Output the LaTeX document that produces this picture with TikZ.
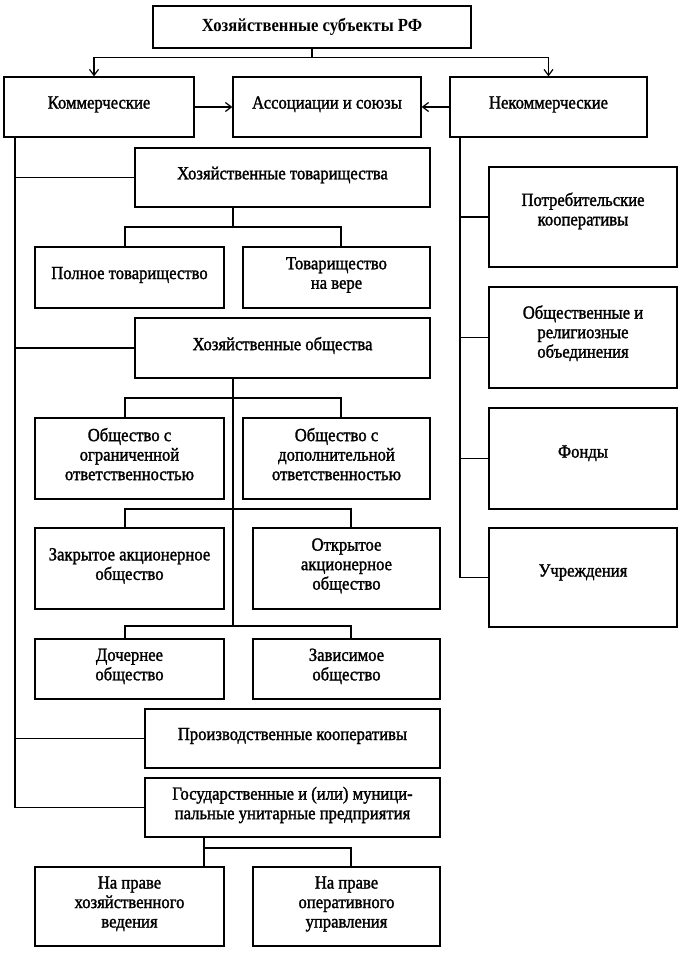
\documentclass[tikz,border=0pt]{standalone}
\usepackage{fontspec}
\setmainfont[FakeStretch=0.9]{Liberation Serif}
\newfontfamily\boxfont[FakeStretch=0.9,FakeBold=1.5]{Liberation Serif}
\usetikzlibrary{arrows.meta}
\begin{document}
\begin{tikzpicture}[x=1pt,y=-1pt,line width=1.2pt,
    box/.style={draw,rectangle,align=center,inner sep=0pt,text depth=9pt,
      font=\boxfont\fontsize{18.5}{19.5}\selectfont},
    arr/.style={-{Straight Barb[length=6pt,width=9pt]}}]
      \useasboundingbox (0,0) rectangle (684,953);
      \draw
        (312,27) node[box,minimum width=318,minimum height=42,text depth=5pt,
          font=\normalfont\bfseries\fontsize{18.5}{19.5}\selectfont] (title){Хозяйственные субъекты РФ}
        (99,107) node[box,minimum width=190,minimum height=60] (komm){Коммерческие}
        (327,107) node[box,minimum width=188,minimum height=60] (assoc){Ассоциации и союзы}
        (548.5,107) node[box,minimum width=197,minimum height=60] (nekomm){Некоммерческие}
        (282.5,177.5) node[box,minimum width=295,minimum height=59] (htov){Хозяйственные товарищества}
        (129.5,277.5) node[box,minimum width=189,minimum height=61] (poln){Полное товарищество}
        (336.5,277.5) node[box,minimum width=187,minimum height=61] (vera){Товарищество\\на вере}
        (282.5,348) node[box,minimum width=295,minimum height=60] (hob){Хозяйственные общества}
        (129.5,458.5) node[box,minimum width=189,minimum height=81] (ooo){Общество с\\ограниченной\\ответственностью}
        (336.5,458.5) node[box,minimum width=187,minimum height=81] (odo){Общество с\\дополнительной\\ответственностью}
        (129.5,568.5) node[box,minimum width=189,minimum height=81] (zao){Закрытое акционерное\\общество}
        (346.5,568.5) node[box,minimum width=187,minimum height=81] (oao){Открытое\\акционерное\\общество}
        (129.5,669) node[box,minimum width=189,minimum height=60] (doch){Дочернее\\общество}
        (346.5,669) node[box,minimum width=187,minimum height=60] (zav){Зависимое\\общество}
        (292.5,738.5) node[box,minimum width=295,minimum height=59] (pk){Производственные кооперативы}
        (292.5,807.5) node[box,minimum width=295,minimum height=59] (gup){Государственные и (или) муници-\\пальные унитарные предприятия}
        (129.5,906.5) node[box,minimum width=189,minimum height=79] (hoz){На праве\\хозяйственного\\ведения}
        (346.5,906.5) node[box,minimum width=187,minimum height=79] (oper){На праве\\оперативного\\управления}
        (583,217) node[box,minimum width=188,minimum height=100,text depth=16pt] (potr){Потребительские\\кооперативы}
        (583,337.5) node[box,minimum width=188,minimum height=101,text depth=12pt] (obsh){Общественные и\\религиозные\\объединения}
        (583,458.5) node[box,minimum width=188,minimum height=101,text depth=14pt] (fond){Фонды}
        (583,577.5) node[box,minimum width=188,minimum height=99,text depth=14pt] (uchr){Учреждения};
      \coordinate (lt) at (15,807.5);
      \coordinate (rt) at (460,577.5);
      \coordinate (j1) at (233,227);
      \coordinate (j2) at (233,398);
      \coordinate (j3) at (233,509);
      \coordinate (j4) at (233,626);
      \coordinate (j5) at (204,848);
      \begin{scope}[-]
        \draw[arr] (title.south) -- ++(0,9) -| ([xshift=-5pt]komm.north);
        \draw[arr] (title.south) -- ++(0,9) -| (nekomm.north);
        \draw[arr] (komm.east) -- (assoc.west);
        \draw[arr] (nekomm.west) -- (assoc.east);
        \draw (komm.south -| lt) -- (lt) -- (gup.west);
        \draw (htov.west) -- (htov.west -| lt);
        \draw (hob.west) -- (hob.west -| lt);
        \draw (pk.west) -- (pk.west -| lt);
        \draw (nekomm.south -| rt) -- (rt) -- (uchr.west);
        \draw (potr.west) -- (potr.west -| rt);
        \draw (obsh.west) -- (obsh.west -| rt);
        \draw (fond.west) -- (fond.west -| rt);
        \draw (htov.south -| j1) -- (j1);
        \draw ([xshift=-4.5pt]poln.north) |- (j1) -| ([xshift=4.5pt]vera.north);
        \draw (hob.south -| j2) -- (j4);
        \draw ([xshift=-4.5pt]ooo.north) |- (j2) -| ([xshift=4.5pt]odo.north);
        \draw ([xshift=-4.5pt]zao.north) |- (j3) -| ([xshift=4.5pt]oao.north);
        \draw ([xshift=-4.5pt]doch.north) |- (j4) -| ([xshift=4.5pt]zav.north);
        \draw (gup.south -| j5) -- (j5) -| ([xshift=4.5pt]oper.north);
        \draw (j5) -- (hoz.north -| j5);
      \end{scope}
    \end{tikzpicture}
\end{document}
